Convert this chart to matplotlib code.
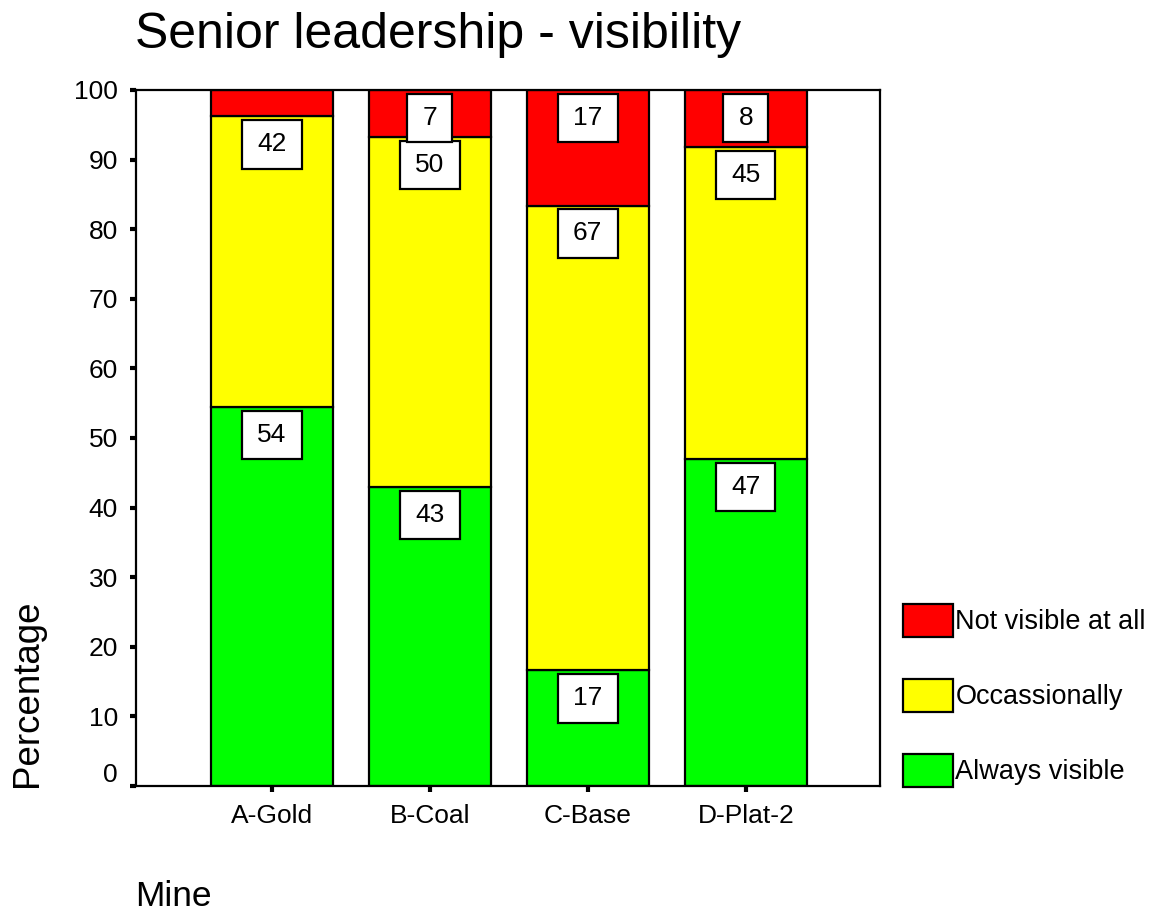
import matplotlib
matplotlib.use('Agg')
import matplotlib.pyplot as plt
import matplotlib.transforms as mtransforms
from matplotlib.path import Path
from matplotlib.patches import Patch

plt.rcParams['font.family'] = ['Liberation Sans', 'DejaVu Sans']

# data (percent of respondents per mine)
mines = ['A-Gold', 'B-Coal', 'C-Base', 'D-Plat-2']
always_visible = [54.4, 43.0, 16.6, 47.0]
occasionally = [41.8, 50.2, 66.8, 44.8]
not_visible = [3.8, 6.8, 16.6, 8.2]

series_names = ['Always visible', 'Occassionally', 'Not visible at all']
series_colors = ['#00ff00', '#ffff00', '#ff0000']


def label_box(x0, y0, width, height, mutation_size):
    # white label box, wider padding left/right than top/bottom
    px = 0.57 * mutation_size
    py = 0.46 * mutation_size
    return Path([(x0 - px, y0 - py), (x0 + width + px, y0 - py),
                 (x0 + width + px, y0 + height + py), (x0 - px, y0 + height + py),
                 (x0 - px, y0 - py)], closed=True)


fig = plt.figure(figsize=(11.49, 9.18), dpi=100)
ax = fig.add_axes([0.1184, 0.1438, 0.6475, 0.7582])

positions = list(range(len(mines)))
bottoms = [0.0] * len(mines)
for values, name, color in zip([always_visible, occasionally, not_visible], series_names, series_colors):
    ax.bar(positions, values, width=0.77, bottom=bottoms, color=color,
           edgecolor='black', linewidth=1.6, label=name)
    for i, v in enumerate(values):
        top = bottoms[i] + v
        if v >= 5:
            ax.annotate(f'{v:.0f}', xy=(positions[i], top), xytext=(0, -11.5),
                        textcoords='offset points', ha='center', va='top',
                        fontsize=19, color='black',
                        bbox=dict(boxstyle=label_box, facecolor='white',
                                  edgecolor='black', linewidth=1.6))
    bottoms = [b + v for b, v in zip(bottoms, values)]

ax.set_xlim(-0.86, 3.85)
ax.set_ylim(0, 100)
ax.set_yticks(range(0, 101, 10))
ax.set_xticks(positions)
ax.set_xticklabels(mines)
ax.tick_params(axis='both', direction='out', length=4, width=3, color='black',
               labelsize=19, pad=9)
for spine in ax.spines.values():
    spine.set_linewidth(1.6)

# the "0" label sits a bit above its tick in the original
zero_label = ax.get_yticklabels()[0]
zero_label.set_transform(zero_label.get_transform() +
                         mtransforms.ScaledTranslation(0, 0.13, fig.dpi_scale_trans))

handles = [Patch(facecolor=c, edgecolor='black', linewidth=1.6) for c in series_colors[::-1]]
fig.legend(handles, series_names[::-1], loc='lower left', bbox_to_anchor=(0.786, 0.143),
           frameon=False, fontsize=19.5, handlelength=1.85, handleheight=1.5,
           handletextpad=0.08, labelspacing=1.55, borderpad=0, borderaxespad=0)

fig.text(0.1175, 0.948, 'Senior leadership - visibility', fontsize=36, ha='left', va='baseline')
fig.text(0.024, 0.143, 'Percentage', fontsize=26.5, rotation=90, ha='center', va='bottom')
fig.text(0.1175, 0.005, 'Mine', fontsize=25.5, ha='left', va='bottom')

fig.savefig('out.png', dpi=100)
